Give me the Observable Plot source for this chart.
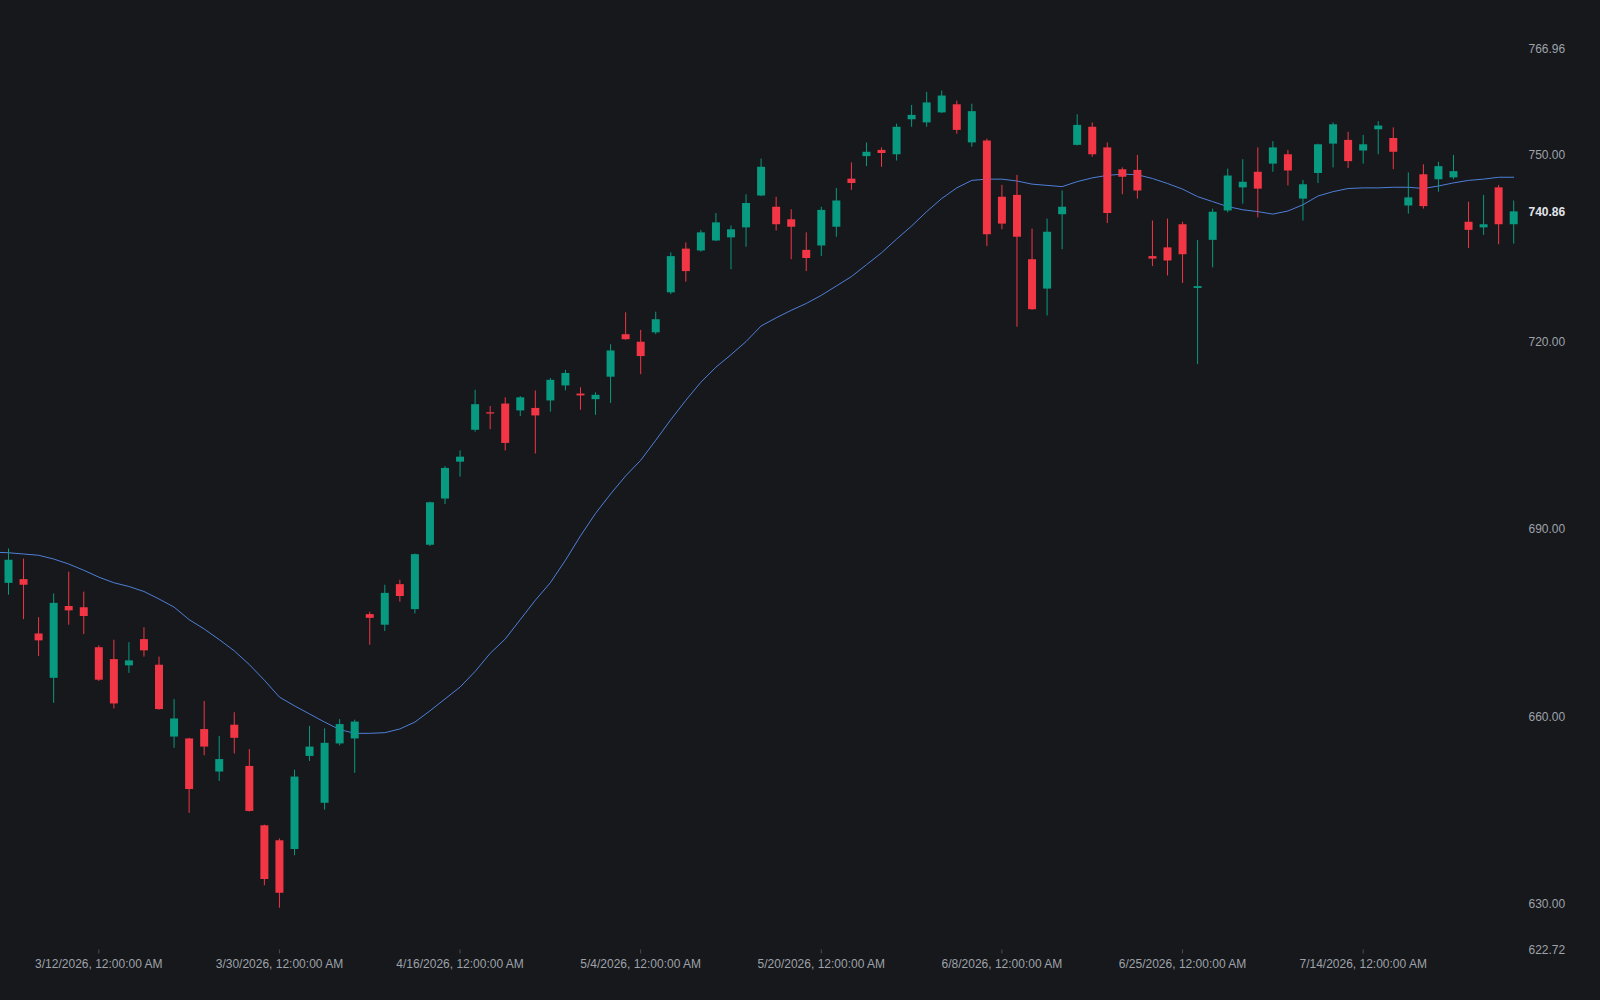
<!DOCTYPE html>
<html><head><meta charset="utf-8">
<script src="https://cdn.jsdelivr.net/npm/d3@7"></script>
<script src="https://cdn.jsdelivr.net/npm/@observablehq/plot@0.6"></script>
<style>
html,body{margin:0;padding:0;background:#16181b;overflow:hidden;}
#chart{width:1600px;height:1000px;}
</style></head><body><div id="chart"></div>
<script>
// Trading days (one per candle)
const dates = [
"2026-03-04","2026-03-05","2026-03-06","2026-03-09","2026-03-10","2026-03-11","2026-03-12","2026-03-13","2026-03-16","2026-03-17",
"2026-03-18","2026-03-19","2026-03-20","2026-03-23","2026-03-24","2026-03-25","2026-03-26","2026-03-27","2026-03-30","2026-03-31",
"2026-04-01","2026-04-02","2026-04-06","2026-04-07","2026-04-08","2026-04-09","2026-04-10","2026-04-13","2026-04-14","2026-04-15",
"2026-04-16","2026-04-17","2026-04-20","2026-04-21","2026-04-22","2026-04-23","2026-04-24","2026-04-27","2026-04-28","2026-04-29",
"2026-04-30","2026-05-01","2026-05-04","2026-05-05","2026-05-06","2026-05-07","2026-05-08","2026-05-11","2026-05-12","2026-05-13",
"2026-05-14","2026-05-15","2026-05-18","2026-05-19","2026-05-20","2026-05-21","2026-05-22","2026-05-26","2026-05-27","2026-05-28",
"2026-05-29","2026-06-01","2026-06-02","2026-06-03","2026-06-04","2026-06-05","2026-06-08","2026-06-09","2026-06-10","2026-06-11",
"2026-06-12","2026-06-15","2026-06-16","2026-06-17","2026-06-18","2026-06-22","2026-06-23","2026-06-24","2026-06-25","2026-06-26",
"2026-06-29","2026-06-30","2026-07-01","2026-07-02","2026-07-06","2026-07-07","2026-07-08","2026-07-09","2026-07-10","2026-07-13",
"2026-07-14","2026-07-15","2026-07-16","2026-07-17","2026-07-20","2026-07-21","2026-07-22","2026-07-23","2026-07-24","2026-07-27",
"2026-07-28"];

const open = [
681.4,682.0,673.3,666.2,677.7,677.5,671.1,669.2,668.2,672.4,
668.3,656.8,656.5,658.0,651.2,658.7,652.1,642.6,640.2,638.8,
653.7,646.2,655.7,656.5,676.4,674.7,681.2,677.2,687.5,694.9,
700.8,705.9,708.7,710.1,709.0,709.4,710.6,713.0,711.7,710.8,
714.4,721.2,720.0,721.5,727.9,734.9,734.6,736.2,736.7,738.3,
743.4,741.6,739.6,734.7,735.4,738.4,746.1,749.7,750.7,750.0,
755.6,755.1,756.7,758.0,751.9,752.2,743.2,743.5,733.2,728.5,
740.4,751.5,754.4,751.1,747.6,747.5,733.7,735.1,738.8,728.6,
736.3,741.0,744.7,747.2,748.5,750.0,742.9,747.0,751.7,752.3,
750.6,754.0,752.6,741.8,746.8,746.0,746.3,739.2,738.3,744.7,
738.8];
const high = [
686.9,685.3,675.9,679.7,683.2,680.0,671.4,672.3,671.9,674.3,
669.6,662.8,656.6,662.5,656.9,660.7,654.8,642.7,640.5,651.5,
658.5,658.1,659.6,659.5,676.8,681.1,681.9,686.1,694.4,700.1,
702.6,712.3,709.7,711.1,711.3,712.2,714.2,715.5,712.7,711.9,
719.6,724.7,721.9,724.8,734.3,735.9,737.9,740.6,738.6,743.6,
749.3,743.2,741.2,737.5,741.6,744.6,748.7,751.9,751.1,754.9,
757.9,760.0,760.2,758.6,758.1,752.5,745.1,746.7,738.1,739.7,
744.2,756.4,755.1,751.9,747.9,749.9,739.4,739.7,739.2,736.3,
741.3,747.7,749.2,751.1,752.1,750.7,745.9,751.7,755.1,753.6,
753.1,755.3,754.3,747.1,748.4,748.8,749.9,742.4,743.5,745.1,
742.6];
const low = [
679.5,675.6,669.7,662.2,674.7,673.2,665.7,661.3,667.0,669.6,
661.1,655.0,644.6,653.8,649.7,654.1,644.8,633.0,629.4,637.8,
652.9,645.1,655.4,651.0,671.5,673.7,678.4,676.5,687.3,694.0,
698.4,705.6,706.0,702.6,708.1,702.1,708.8,712.2,709.1,708.3,
710.2,720.3,714.8,721.2,727.6,729.6,734.4,736.1,731.6,735.2,
743.3,737.8,733.2,731.3,733.7,736.8,744.3,748.1,748.0,749.0,
754.4,754.4,756.6,753.3,751.2,735.3,738.0,722.4,725.1,724.2,
734.8,751.4,749.6,739.0,743.6,742.9,732.1,730.6,729.4,716.4,
731.9,740.7,742.1,739.9,747.2,745.0,739.4,745.4,747.9,747.8,
748.5,750.0,747.6,740.5,741.3,744.0,746.0,735.0,737.1,735.6,
735.7];
const close = [
685.1,681.1,672.2,678.2,677.0,676.1,665.9,662.1,669.0,670.6,
661.2,659.7,648.4,655.2,653.2,656.6,644.9,634.0,631.8,650.4,
655.2,655.8,658.8,659.2,675.8,679.8,679.3,686.0,694.3,699.8,
701.6,710.0,708.5,703.8,711.1,708.2,713.9,715.0,711.4,711.5,
718.6,720.4,717.7,723.6,733.7,731.3,737.5,739.1,738.0,742.2,
748.0,738.8,738.4,733.4,741.1,742.6,745.4,750.4,750.2,754.4,
756.3,758.3,759.4,753.9,756.9,737.2,738.9,736.8,725.2,737.6,
741.6,754.7,750.0,740.6,746.4,744.2,733.3,733.0,734.0,728.9,
740.8,746.6,745.6,744.5,751.1,747.4,745.2,751.6,754.8,748.9,
751.6,754.6,750.4,743.1,741.7,748.1,747.3,737.9,738.8,738.8,
740.86];

// Moving average line (value of the bar before the first visible one, then one per bar)
const maLead = 686.4;
const ma = [
686.3,686.1,685.9,685.3,684.5,683.5,682.4,681.5,680.9,680.1,
678.9,677.6,675.6,674.1,672.4,670.6,668.4,665.9,663.2,661.8,
660.5,659.2,658.0,657.4,657.4,657.5,658.1,659.2,661.0,662.9,
664.8,667.3,670.2,672.5,675.6,678.7,681.5,685.1,689.0,692.6,
695.7,698.6,701.1,704.3,707.6,710.7,713.6,716.0,718.0,720.1,
722.6,723.9,725.1,726.2,727.5,729.0,730.5,732.4,734.3,736.5,
738.6,740.9,743.0,744.7,745.9,746.1,746.1,745.8,745.3,745.1,
744.9,745.7,746.3,746.7,746.9,746.8,746.2,745.4,744.5,743.3,
742.5,741.7,741.2,740.9,740.5,741.0,742.0,743.4,744.1,744.6,
744.7,744.7,744.8,744.8,744.6,745.0,745.5,745.9,746.1,746.4,
746.4];

const tickDates = ["2026-03-12","2026-03-30","2026-04-16","2026-05-04","2026-05-20","2026-06-08","2026-06-25","2026-07-14"];
const yTicks = [630, 660, 690, 720, 750];
const yExtent = [622.72, 766.96];
const lastPrice = 740.86;

const bars = dates.map((d, i) => ({i, date: d, open: open[i], high: high[i], low: low[i], close: close[i]}));
const maData = [{i: -1, v: maLead}, ...ma.map((v, i) => ({i, v}))];
const tickIdx = tickDates.map(d => dates.indexOf(d));
const fmtDate = s => { const [y, m, d] = s.split("-").map(Number); return `${m}/${d}/${y}, 12:00:00 AM`; };

const up = "#089981", down = "#f23645";
const candleColor = d => d.close >= d.open ? up : down;

const chart = Plot.plot({
  width: 1600, height: 1000,
  marginLeft: 0, marginRight: 78, marginTop: 48.3, marginBottom: 50.5,
  style: {background: "#16181b", color: "#9ea2aa", fontFamily: "'Liberation Sans', Arial, sans-serif", fontSize: "12px"},
  x: {type: "linear", domain: [-0.5315, 100.585], label: null},
  y: {domain: yExtent, label: null},
  marks: [
    Plot.line(maData, {x: "i", y: "v", stroke: "#4f7fd9", strokeWidth: 1, clip: true}),
    Plot.ruleX(bars, {x: "i", y1: "low", y2: "high", stroke: candleColor, strokeWidth: 1}),
    Plot.ruleX(bars, {x: "i", y1: "open", y2: "close", stroke: candleColor, strokeWidth: 8}),
    Plot.axisX({ticks: tickIdx, tickFormat: i => fmtDate(dates[i]), tickSize: 4, tickPadding: 5, stroke: "#4a4d54", fill: "#9ea2aa", label: null}),
    Plot.axisY({anchor: "right", ticks: [...yTicks, ...yExtent], tickFormat: d => d.toFixed(2), tickSize: 0, tickPadding: 6, fill: "#9ea2aa", label: null}),
    Plot.axisY({anchor: "right", ticks: [lastPrice], tickFormat: d => d.toFixed(2), tickSize: 0, tickPadding: 6, fill: "#e3e5ea", fontWeight: "bold", label: null})
  ]
});
document.getElementById("chart").appendChild(chart);
</script>
</body></html>
